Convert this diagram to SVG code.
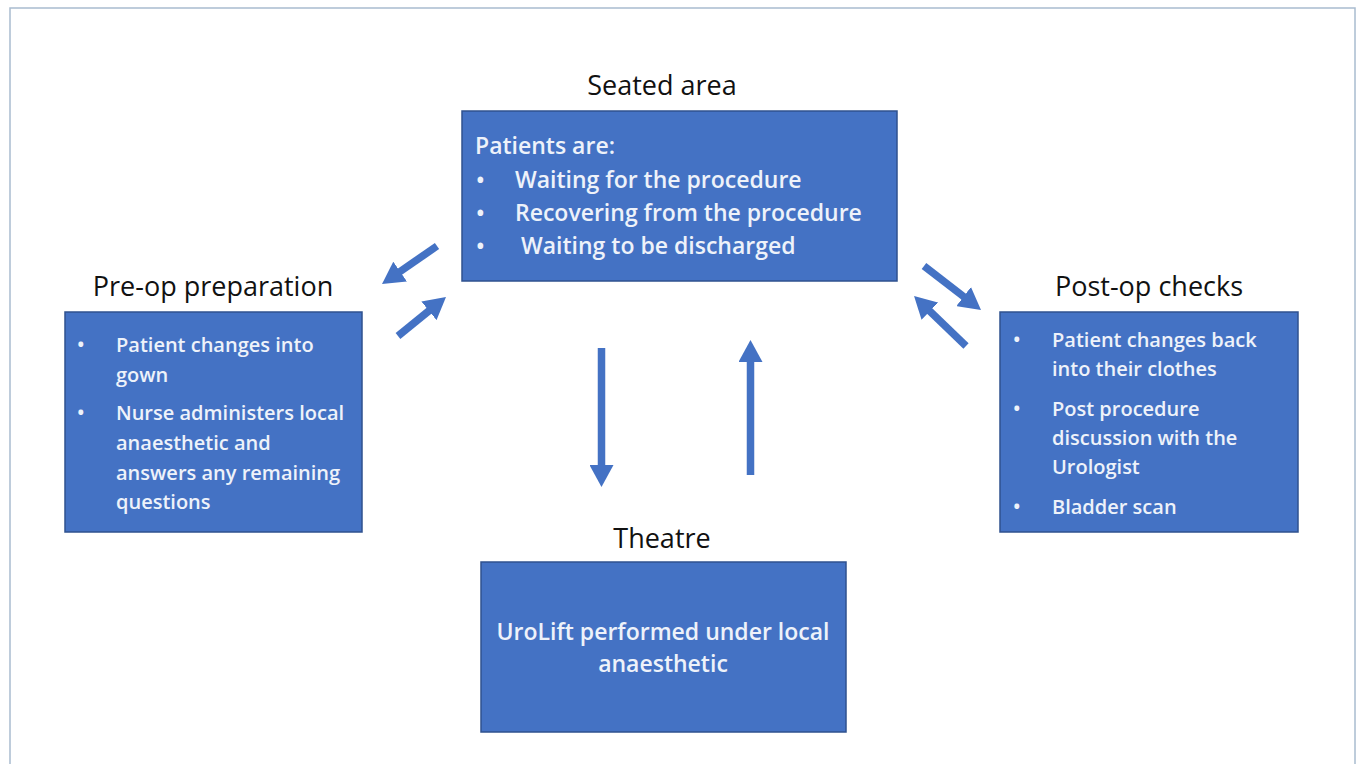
<svg xmlns="http://www.w3.org/2000/svg" width="1362" height="764" viewBox="0 0 1362 764">
<style>
.box{fill:#4472C4;stroke:#2F528F;stroke-width:1.5}
.title{font-family:"Open Sans","Liberation Sans",sans-serif;font-size:27px;fill:#111}
.t{font-family:"Open Sans","Liberation Sans",sans-serif;fill:#eef2fa;font-weight:600}
.s22{font-size:23px}
.s20{font-size:20px}
.arr{stroke:#4472C4;stroke-width:7.5;fill:none;marker-end:url(#ah)}
</style>
<defs>
<marker id="ah" markerUnits="userSpaceOnUse" markerWidth="24" markerHeight="24" refX="14" refY="12" orient="auto">
<path d="M0,0 L22,12 L0,24 z" fill="#4472C4"/>
</marker>
</defs>
<rect x="0" y="0" width="1362" height="764" fill="#ffffff"/>
<rect x="10" y="8" width="1345" height="780" fill="#ffffff" stroke="#a9bccf" stroke-width="1.5"/>

<g id="seated">
<text class="title" x="662" y="95" text-anchor="middle">Seated area</text>
<rect class="box" x="462" y="111" width="435" height="170"/>
<text class="t s22" x="475" y="154">Patients are:</text>
<text class="t s22" x="476" y="188">•</text><text class="t s22" x="515" y="188">Waiting for the procedure</text>
<text class="t s22" x="476" y="221">•</text><text class="t s22" x="515" y="221">Recovering from the procedure</text>
<text class="t s22" x="476" y="254">•</text><text class="t s22" x="521" y="254">Waiting to be discharged</text>
</g>

<g id="preop">
<text class="title" x="213" y="296" text-anchor="middle">Pre-op preparation</text>
<rect class="box" x="65" y="312" width="297" height="220"/>
<text class="t s20" x="77" y="352">•</text><text class="t s20" x="116" y="352">Patient changes into</text>
<text class="t s20" x="116" y="382">gown</text>
<text class="t s20" x="77" y="420">•</text><text class="t s20" x="116" y="420">Nurse administers local</text>
<text class="t s20" x="116" y="450">anaesthetic and</text>
<text class="t s20" x="116" y="480">answers any remaining</text>
<text class="t s20" x="116" y="509">questions</text>
</g>

<g id="postop">
<text class="title" x="1149" y="296" text-anchor="middle">Post-op checks</text>
<rect class="box" x="1000" y="312" width="298" height="220"/>
<text class="t s20" x="1013" y="347">•</text><text class="t s20" x="1052" y="347">Patient changes back</text>
<text class="t s20" x="1052" y="376">into their clothes</text>
<text class="t s20" x="1013" y="416">•</text><text class="t s20" x="1052" y="416">Post procedure</text>
<text class="t s20" x="1052" y="445">discussion with the</text>
<text class="t s20" x="1052" y="474">Urologist</text>
<text class="t s20" x="1013" y="514">•</text><text class="t s20" x="1052" y="514">Bladder scan</text>
</g>

<g id="theatre">
<text class="title" x="662" y="548" text-anchor="middle">Theatre</text>
<rect class="box" x="481" y="562" width="365" height="170"/>
<text class="t s22" x="663" y="640" text-anchor="middle">UroLift performed under local</text>
<text class="t s22" x="663" y="672" text-anchor="middle">anaesthetic</text>
</g>

<g id="connectors">
<line class="arr" x1="437" y1="246" x2="388.6" y2="279.5"/>
<line class="arr" x1="398" y1="336" x2="439.8" y2="302"/>
<line class="arr" x1="924" y1="266" x2="974.7" y2="305.1"/>
<line class="arr" x1="966" y1="346" x2="919.8" y2="301.5"/>
<line class="arr" x1="601.5" y1="348" x2="601.5" y2="479"/>
<line class="arr" x1="750.5" y1="475" x2="750.5" y2="348"/>
</g>
</svg>
